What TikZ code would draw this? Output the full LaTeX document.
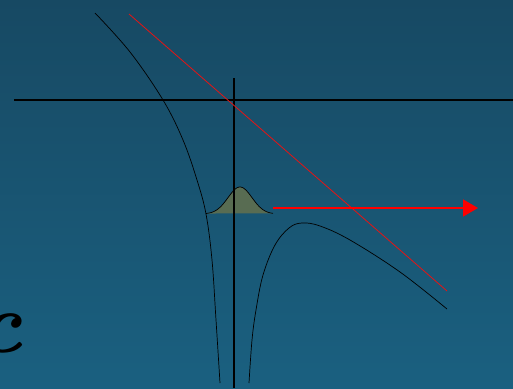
\documentclass[tikz,border=0pt]{standalone}
\usetikzlibrary{arrows.meta}
\definecolor{bgtop}{RGB}{23,73,99}
\definecolor{bgbot}{RGB}{26,96,128}
\definecolor{gfill}{RGB}{88,108,82}
\definecolor{redl}{RGB}{230,20,20}
\tikzset{
  axis/.style={black, line width=1.1pt},
  curve/.style={black, line width=0.7pt},
  redline/.style={redl, line width=0.8pt},
  arr/.style={red, line width=1.6pt, -{Triangle[length=15pt,width=17pt]}}
}
\begin{document}
\begin{tikzpicture}[x=1pt,y=-1pt]
\shade[top color=bgtop, bottom color=bgbot] (0,0) rectangle (513,388);
\useasboundingbox (0,0) rectangle (513,388);
% letter at left edge
\node[anchor=base west, inner sep=0pt] (lett) at (-24,352) {\fontsize{86}{86}\selectfont\bfseries\itshape c};
% gaussian
\fill[gfill] plot[domain=206:273, samples=60, smooth] (\x, {214-27*exp(-((\x-240)^2)/(2*12^2))}) -- cycle;
\draw[curve] plot[domain=206:273, samples=60, smooth] (\x, {214-27*exp(-((\x-240)^2)/(2*12^2))});
% axes
\coordinate (hl) at (14,100);
\coordinate (hr) at (513,100);
\coordinate (vt) at (234,78);
\coordinate (vb) at (234,388);
\draw[axis] (hl) -- (hr);
\draw[axis] (vt) -- (vb);
% red line
\coordinate (r1) at (129,14);
\coordinate (r2) at (447,291);
\draw[redline] (r1) -- (r2);
% left curve
\draw[curve] plot[smooth, tension=0.6] coordinates {(95,13) (130,52) (163,100) (183,140) (197,180) (206,214) (212,260) (216,320) (220,383)};
% right curve
\draw[curve] plot[smooth, tension=0.6] coordinates {(249,383) (252,340) (256,310) (263,275) (275,245) (289,228) (302,223) (320,226) (350,240) (400,272) (447,309)};
% arrow
\coordinate (a1) at (273,208);
\coordinate (a2) at (478,208);
\draw[arr] (a1) -- (a2);
\end{tikzpicture}
\end{document}
